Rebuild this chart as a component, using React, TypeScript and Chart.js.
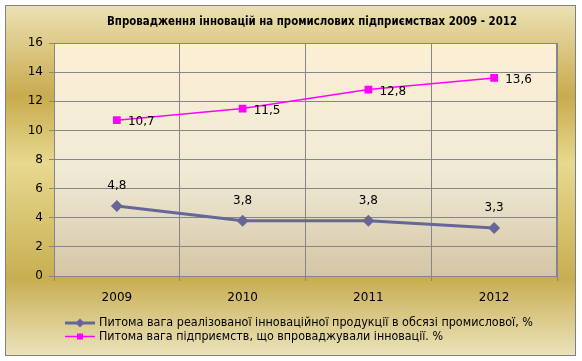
import React, { useEffect, useRef } from "react";
import { Chart, registerables } from "chart.js";

Chart.register(...registerables);

const TITLE = "Впровадження інновацій на промислових підприємствах 2009 - 2012";
const CATEGORIES = ["2009", "2010", "2011", "2012"];
const SERIES1_LABEL = "Питома вага реалізованої інноваційної продукції в обсязі промислової, %";
const SERIES1 = [4.8, 3.8, 3.8, 3.3];
const SERIES2_LABEL = "Питома вага підприємств, що впроваджували інновації. %";
const SERIES2 = [10.7, 11.5, 12.8, 13.6];
const Y_MIN = 0;
const Y_MAX = 16;
const Y_STEP = 2;

const FONT = "'DejaVu Sans', Verdana, sans-serif";
const C1 = "#666699";
const C2 = "#ff00ff";
const GRID = "#868686";

const fmt = (v: number) => String(v).replace(".", ",");

const decor = {
  id: "decor",
  beforeDraw(chart: any) {
    const { ctx, chartArea: a } = chart;
    ctx.save();
    const g = ctx.createLinearGradient(0, 5, 0, 356);
    g.addColorStop(0, "#ebe1b3");
    g.addColorStop(0.26, "#c9ab4e");
    g.addColorStop(0.45, "#e7d98f");
    g.addColorStop(0.78, "#c8ae52");
    g.addColorStop(1, "#ebe3bc");
    ctx.fillStyle = g;
    ctx.fillRect(5, 5, 571, 351);
    ctx.strokeStyle = "#808080";
    ctx.lineWidth = 1;
    ctx.strokeRect(5.5, 5.5, 570, 350);

    const g2 = ctx.createLinearGradient(0, a.top, 0, a.bottom);
    g2.addColorStop(0, "#fcefd4");
    g2.addColorStop(0.55, "#f0ead6");
    g2.addColorStop(1, "#d4c6a5");
    ctx.fillStyle = g2;
    ctx.fillRect(a.left, a.top, a.right - a.left, a.bottom - a.top);

    ctx.fillStyle = "#000";
    ctx.font = "bold 12px " + FONT;
    ctx.textAlign = "center";
    ctx.textBaseline = "middle";
    ctx.fillText(TITLE, 312, 22, 410);
    ctx.restore();
  },
  beforeDatasetsDraw(chart: any) {
    const { ctx, chartArea: a } = chart;
    ctx.save();
    ctx.strokeStyle = GRID;
    ctx.lineWidth = 1;
    ctx.strokeRect(a.left + 0.5, a.top + 0.5, a.right - a.left - 1, a.bottom - a.top);
    ctx.restore();
  },
  afterDatasetsDraw(chart: any) {
    const { ctx } = chart;
    ctx.save();
    ctx.fillStyle = "#000";
    ctx.font = "12px " + FONT;
    const m0 = chart.getDatasetMeta(0);
    ctx.textAlign = "center";
    ctx.textBaseline = "middle";
    m0.data.forEach((p: any, i: number) => {
      ctx.fillText(fmt(SERIES1[i]), p.x, p.y - 20);
    });
    const m1 = chart.getDatasetMeta(1);
    ctx.textAlign = "left";
    m1.data.forEach((p: any, i: number) => {
      ctx.fillText(fmt(SERIES2[i]), p.x + 11, p.y + 2);
    });

    // legend
    const items = [
      { label: SERIES1_LABEL, color: C1, lw: 3, shape: "diamond", w: 434 },
      { label: SERIES2_LABEL, color: C2, lw: 1.5, shape: "square", w: 344 },
    ];
    items.forEach((it, i) => {
      const y = 323 + i * 13.5;
      ctx.strokeStyle = it.color;
      ctx.fillStyle = it.color;
      ctx.lineWidth = it.lw;
      ctx.beginPath();
      ctx.moveTo(65, y);
      ctx.lineTo(95, y);
      ctx.stroke();
      ctx.beginPath();
      if (it.shape === "diamond") {
        ctx.moveTo(80, y - 4.5);
        ctx.lineTo(84.5, y);
        ctx.lineTo(80, y + 4.5);
        ctx.lineTo(75.5, y);
        ctx.closePath();
      } else {
        ctx.rect(77, y - 3, 6, 6);
      }
      ctx.fill();
      ctx.fillStyle = "#000";
      ctx.font = "12px " + FONT;
      ctx.textAlign = "left";
      ctx.textBaseline = "middle";
      ctx.fillText(it.label, 99, y, it.w);
    });
    ctx.restore();
  },
};

export default function App() {
  const ref = useRef<HTMLCanvasElement>(null);
  useEffect(() => {
    document.body.style.margin = "0";
    const chart = new Chart(ref.current!, {
      type: "line",
      data: {
        labels: CATEGORIES,
        datasets: [
          {
            label: SERIES1_LABEL,
            data: SERIES1,
            borderColor: C1,
            backgroundColor: C1,
            borderWidth: 3,
            pointStyle: "rectRot",
            pointRadius: 6,
            pointBorderWidth: 0,
            tension: 0,
          },
          {
            label: SERIES2_LABEL,
            data: SERIES2,
            borderColor: C2,
            backgroundColor: C2,
            borderWidth: 1.5,
            pointStyle: "rect",
            pointRadius: 5.5,
            pointBorderWidth: 0,
            tension: 0,
          },
        ],
      },
      options: {
        responsive: false,
        animation: false,
        devicePixelRatio: 1,
        layout: { padding: { top: 43, right: 25, bottom: 55, left: 0 } },
        plugins: {
          legend: { display: false },
          title: { display: false },
          tooltip: { enabled: false },
        },
        scales: {
          x: {
            type: "category",
            offset: true,
            grid: { offset: true, color: GRID, tickLength: 5, drawTicks: true },
            border: { color: GRID },
            ticks: { color: "#000", font: { family: FONT, size: 12 }, padding: 10 },
            afterFit: (s: any) => {
              s.height = 30;
            },
          },
          y: {
            min: Y_MIN,
            max: Y_MAX,
            grid: { color: GRID, tickLength: 5 },
            border: { color: GRID },
            ticks: {
              stepSize: Y_STEP,
              color: "#000",
              font: { family: FONT, size: 12 },
              padding: 6,
            },
            afterFit: (s: any) => {
              s.width = 54;
            },
          },
        },
      },
      plugins: [decor],
    } as any);
    return () => chart.destroy();
  }, []);
  return <canvas ref={ref} width={582} height={361} style={{ display: "block" }} />;
}
